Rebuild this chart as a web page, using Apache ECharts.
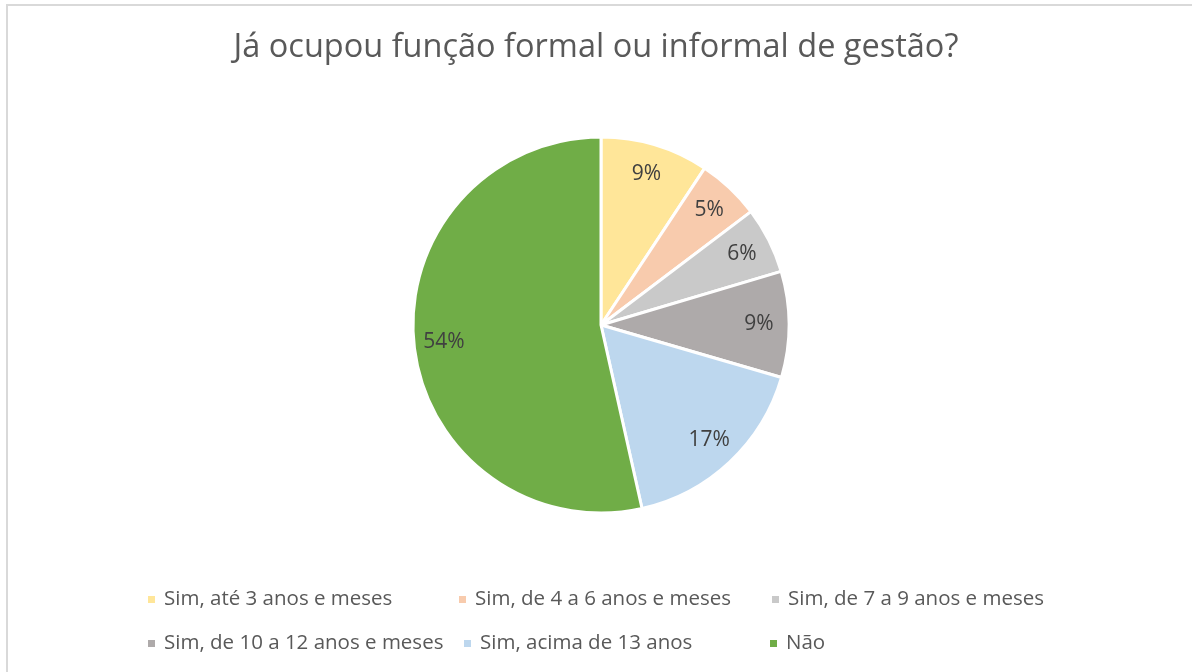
<!DOCTYPE html>
<html>
<head>
<meta charset="utf-8">
<script src="https://cdn.jsdelivr.net/npm/echarts@6/dist/echarts.min.js"></script>
<style>
  html, body { margin: 0; padding: 0; background: #ffffff; }
  #chart { width: 1192px; height: 672px; }
</style>
</head>
<body>
<div id="chart"></div>
<script>
// categorias e valores (%)
var categories = [
  'Sim, até 3 anos e meses',
  'Sim, de 4 a 6 anos e meses',
  'Sim, de 7 a 9 anos e meses',
  'Sim, de 10 a 12 anos e meses',
  'Sim, acima de 13 anos',
  'Não'
];
var values = [9.3, 5.4, 5.7, 9.1, 17.0, 53.5];
var colors = ['#FFE699', '#F8CBAD', '#C9C9C9', '#AEAAAA', '#BDD7EE', '#70AD47'];

var FONT = 'Open Sans';
var textColor = '#595959';

var pieData = categories.map(function (name, i) {
  return { name: name, value: values[i] };
});

// posição de cada item da legenda (duas linhas, estilo Excel)
var legendPos = [
  { left: 146, top: 589 },
  { left: 457, top: 589 },
  { left: 770, top: 589 },
  { left: 146, top: 633 },
  { left: 462, top: 633 },
  { left: 768, top: 633 }
];

var legends = categories.map(function (name, i) {
  return {
    data: [name],
    left: legendPos[i].left,
    top: legendPos[i].top,
    padding: 0,
    icon: 'rect',
    itemWidth: 9,
    itemHeight: 9,
    selectedMode: false,
    textStyle: { fontFamily: FONT, fontSize: 20.5, color: textColor, padding: [0, 0, 0, 3] }
  };
});

var chart = echarts.init(document.getElementById('chart'));
chart.setOption({
  color: colors,
  animation: false,
  title: {
    text: 'Já ocupou função formal ou informal de gestão?',
    left: 'center',
    top: 31,
    padding: 0,
    textStyle: { fontFamily: FONT, fontSize: 32.5, fontWeight: 'normal', color: textColor }
  },
  graphic: [{
    type: 'rect',
    shape: { x: 7, y: 5, width: 1200, height: 700 },
    style: { fill: 'none', stroke: '#d9d9d9', lineWidth: 2 },
    silent: true
  }],
  legend: legends,
  series: [
    {
      type: 'pie',
      center: [601, 325],
      radius: [0, 188],
      startAngle: 90,
      clockwise: true,
      label: { show: false },
      labelLine: { show: false },
      itemStyle: { borderColor: '#ffffff', borderWidth: 3 },
      emphasis: { disabled: true },
      data: pieData
    },
    {
      // série transparente apenas para posicionar os rótulos
      type: 'pie',
      center: [601, 325],
      radius: [122, 188],
      startAngle: 90,
      clockwise: true,
      silent: true,
      itemStyle: { color: 'rgba(0,0,0,0)' },
      emphasis: { disabled: true },
      label: {
        show: true,
        position: 'inside',
        fontFamily: FONT,
        fontSize: 21,
        color: '#404040',
        formatter: function (p) { return Math.round(p.percent) + '%'; }
      },
      labelLine: { show: false },
      data: pieData
    }
  ]
});
</script>
</body>
</html>
